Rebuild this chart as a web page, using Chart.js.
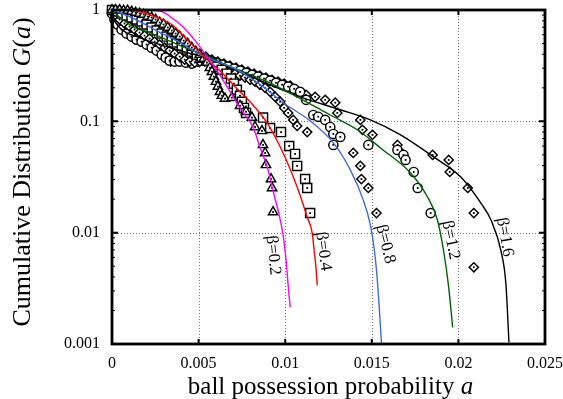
<!DOCTYPE html>
<html>
<head>
<meta charset="utf-8">
<script src="https://cdn.jsdelivr.net/npm/chart.js@4/dist/chart.umd.min.js"></script>
<style>
  body { margin: 0; background: #fff; }
  canvas { display: block; }
</style>
</head>
<body>
<canvas id="dist" width="563" height="399"></canvas>
<script>
// axis ticks
const xTicks = [0, 0.005, 0.01, 0.015, 0.02, 0.025];
const xTickLabels = ['0', '0.005', '0.01', '0.015', '0.02', '0.025'];
const yTicks = [0.001, 0.01, 0.1, 1];
const yTickLabels = ['0.001', '0.01', '0.1', '1'];

// fitted curves, [a, G(a)]
const fit02 = [[0,1],[0.00101,1],[0.00217,0.995],[0.00287,0.969],[0.00351,0.838],[0.00409,0.706],[0.00484,0.52],[0.00553,0.373],[0.0064,0.236],[0.00739,0.132],[0.00814,0.089],[0.00854,0.0589],[0.00901,0.0366],[0.00936,0.0218],[0.00965,0.0144],[0.00988,0.0095],[0.01005,0.00565],[0.01017,0.00337],[0.01029,0.00213]];
const fit04 = [[0,1],[0.00113,0.995],[0.00246,0.874],[0.00345,0.74],[0.00461,0.489],[0.00536,0.373],[0.00623,0.285],[0.00739,0.184],[0.00797,0.15],[0.00895,0.0969],[0.00988,0.052],[0.01069,0.0257],[0.01127,0.0138],[0.01156,0.0099],[0.01167,0.00695],[0.01179,0.00459],[0.01185,0.00337]];
const fit08 = [[0,1],[0.00101,0.874],[0.00246,0.667],[0.00391,0.51],[0.00536,0.381],[0.00698,0.303],[0.00872,0.205],[0.00988,0.147],[0.01144,0.101],[0.01278,0.064],[0.01376,0.0366],[0.01451,0.0196],[0.01492,0.0117],[0.01515,0.00695],[0.01532,0.00373],[0.01544,0.002],[0.01556,0.001]];
const fit12 = [[0,1],[0.000145,0.95],[0.00061,0.821],[0.0013,0.696],[0.00217,0.627],[0.00408,0.469],[0.00565,0.373],[0.00698,0.303],[0.00895,0.227],[0.01087,0.16],[0.0126,0.114],[0.01417,0.084],[0.0155,0.0577],[0.01724,0.0344],[0.01822,0.0209],[0.01879,0.013],[0.01914,0.00695],[0.01944,0.00323],[0.01967,0.00141]];
const fit16 = [[0,1],[0.000087,0.856],[0.000435,0.696],[0.00159,0.565],[0.00333,0.459],[0.00536,0.373],[0.00739,0.279],[0.00913,0.213],[0.01087,0.166],[0.01318,0.127],[0.01492,0.103],[0.01666,0.0756],[0.01857,0.0479],[0.02014,0.0316],[0.0213,0.0184],[0.02188,0.013],[0.02245,0.00695],[0.02274,0.00351],[0.02292,0.00103]];

// measured distributions, [a, G(a)]
const obs02 = [[0,1],[0.0002,1],[0.00044,1],[0.00067,0.99],[0.0009,0.99],[0.00113,0.969],[0.00136,0.95],[0.00159,0.93],[0.00183,0.911],[0.00206,0.874],[0.00229,0.856],[0.00252,0.821],[0.00275,0.772],[0.00298,0.74],[0.00322,0.696],[0.00345,0.654],[0.00368,0.614],[0.00391,0.577],[0.00414,0.531],[0.00437,0.499],[0.00461,0.459],[0.00484,0.423],[0.00507,0.397],[0.0053,0.366],[0.00548,0.337],[0.00565,0.303],[0.00577,0.279],[0.00588,0.252],[0.006,0.227],[0.00611,0.205],[0.00623,0.184],[0.00634,0.17],[0.00652,0.16],[0.00692,0.163],[0.00739,0.138],[0.00774,0.122],[0.00808,0.108],[0.00826,0.089],[0.00866,0.082],[0.00872,0.0614],[0.00884,0.052],[0.00889,0.0406],[0.00918,0.0303],[0.00924,0.0252],[0.0093,0.0153]];
const obs04 = [[0,1],[0.00026,0.969],[0.00055,0.93],[0.00084,0.892],[0.00113,0.856],[0.00142,0.821],[0.00171,0.788],[0.002,0.74],[0.00229,0.696],[0.00258,0.654],[0.00287,0.614],[0.00316,0.577],[0.00345,0.542],[0.00374,0.51],[0.00403,0.479],[0.00432,0.45],[0.00461,0.423],[0.0049,0.397],[0.00519,0.373],[0.00548,0.351],[0.00577,0.33],[0.00605,0.31],[0.00634,0.291],[0.00663,0.268],[0.00687,0.242],[0.00704,0.218],[0.00721,0.192],[0.00739,0.17],[0.0075,0.15],[0.00762,0.132],[0.00774,0.119],[0.00872,0.108],[0.00913,0.087],[0.00976,0.08],[0.01023,0.0601],[0.01057,0.051],[0.01069,0.0398],[0.01115,0.0303],[0.01127,0.0252],[0.01144,0.015]];
const obs08 = [[0,0.969],[0.0002,0.892],[0.00044,0.821],[0.00072,0.756],[0.00101,0.71],[0.0013,0.667],[0.00159,0.627],[0.00188,0.589],[0.00217,0.554],[0.00246,0.52],[0.00275,0.489],[0.00304,0.459],[0.00333,0.432],[0.00362,0.406],[0.00391,0.381],[0.0042,0.358],[0.00449,0.344],[0.00478,0.337],[0.00507,0.344],[0.00536,0.344],[0.00565,0.337],[0.00594,0.323],[0.00623,0.31],[0.00652,0.291],[0.00681,0.279],[0.0071,0.268],[0.00739,0.257],[0.00768,0.247],[0.00797,0.236],[0.00826,0.227],[0.00854,0.213],[0.00884,0.2],[0.00913,0.184],[0.00942,0.166],[0.00971,0.15],[0.00994,0.132],[0.01017,0.119],[0.01046,0.103],[0.01069,0.091],[0.01127,0.08],[0.01393,0.052],[0.01434,0.0398],[0.0144,0.0303],[0.0148,0.0252],[0.01527,0.015]];
const obs12 = [[0,0.93],[0.000145,0.821],[0.00032,0.74],[0.00055,0.667],[0.00084,0.614],[0.00113,0.577],[0.00142,0.542],[0.00171,0.52],[0.002,0.489],[0.00229,0.459],[0.00258,0.432],[0.00287,0.397],[0.0031,0.373],[0.00333,0.351],[0.00362,0.344],[0.00391,0.344],[0.00426,0.337],[0.00461,0.33],[0.00495,0.344],[0.0053,0.358],[0.00565,0.351],[0.006,0.337],[0.00634,0.323],[0.00669,0.31],[0.00704,0.297],[0.00739,0.285],[0.00774,0.273],[0.00808,0.262],[0.00843,0.252],[0.00878,0.242],[0.00913,0.232],[0.00947,0.222],[0.00982,0.213],[0.01017,0.205],[0.01052,0.196],[0.01086,0.184],[0.01121,0.156],[0.01162,0.114],[0.01191,0.11],[0.01231,0.103],[0.0126,0.089],[0.01278,0.077],[0.01278,0.0614],[0.01318,0.0725],[0.0148,0.0614],[0.01648,0.0553],[0.01683,0.0499],[0.01695,0.045],[0.01742,0.0351],[0.01765,0.0252],[0.0184,0.015]];
const obs16 = [[0,1],[0.00009,0.911],[0.0002,0.821],[0.00038,0.74],[0.00061,0.681],[0.0009,0.64],[0.00119,0.601],[0.00148,0.565],[0.00177,0.531],[0.00206,0.499],[0.00235,0.469],[0.00264,0.432],[0.00293,0.397],[0.00316,0.366],[0.00339,0.344],[0.00368,0.358],[0.00403,0.373],[0.00437,0.373],[0.00472,0.358],[0.00507,0.373],[0.00542,0.381],[0.00577,0.358],[0.00611,0.344],[0.00646,0.33],[0.00681,0.316],[0.00716,0.303],[0.0075,0.291],[0.00785,0.279],[0.0082,0.268],[0.00854,0.257],[0.00889,0.247],[0.00924,0.236],[0.00959,0.227],[0.00994,0.218],[0.01029,0.209],[0.01069,0.181],[0.01121,0.173],[0.01173,0.166],[0.01231,0.156],[0.01289,0.147],[0.01301,0.119],[0.01434,0.103],[0.01446,0.084],[0.01504,0.0756],[0.01648,0.0614],[0.01654,0.0553],[0.01851,0.0499],[0.01944,0.045],[0.0195,0.0351],[0.02054,0.0252],[0.02089,0.015],[0.02089,0.00489]];

// curve labels and where they sit (a, G)
const betaLabels = ['β=0.2', 'β=0.4', 'β=0.8', 'β=1.2', 'β=1.6'];
const labelA = [0.0093, 0.0122, 0.01579, 0.01955, 0.02268];
const labelG = [0.00627, 0.0068, 0.00788, 0.00856, 0.0091];
const labelTilt = [84, 82, 76, 78, 80];

const SERIF = "'Liberation Serif', 'Times New Roman', serif";
Chart.defaults.font.family = SERIF;

const pts = arr => arr.map(p => ({ x: p[0], y: p[1] }));

function fitLine(data, color) {
  return {
    type: 'line', data: pts(data), borderColor: color, borderWidth: 1.4,
    pointRadius: 0, cubicInterpolationMode: 'monotone', fill: false, order: 0
  };
}

// open markers: white inside, black outline, dot drawn by the plugin below
function observed(data, style, radius) {
  return {
    type: 'scatter', data: pts(data), pointStyle: style, pointRadius: radius,
    pointBackgroundColor: '#fff', pointBorderColor: '#000', pointBorderWidth: 1.45,
    clip: false, order: 1
  };
}

function richText(ctx, parts, x, y, size) {
  let total = 0;
  parts.forEach(p => {
    ctx.font = (p[1] ? 'italic ' : '') + size + 'px ' + SERIF;
    total += ctx.measureText(p[0]).width;
  });
  let cx = x - total / 2;
  ctx.textAlign = 'left';
  ctx.textBaseline = 'middle';
  parts.forEach(p => {
    ctx.font = (p[1] ? 'italic ' : '') + size + 'px ' + SERIF;
    ctx.fillText(p[0], cx, y);
    cx += ctx.measureText(p[0]).width;
  });
}

const framePlugin = {
  id: 'framePlugin',
  beforeDatasetsDraw(chart) {
    const { ctx, chartArea: a, scales: { x, y } } = chart;
    ctx.save();
    ctx.strokeStyle = '#777';
    ctx.lineWidth = 1;
    ctx.setLineDash([1, 2]);
    xTicks.slice(1, -1).forEach(v => {
      const px = Math.round(x.getPixelForValue(v)) + 0.5;
      ctx.beginPath(); ctx.moveTo(px, a.top); ctx.lineTo(px, a.bottom); ctx.stroke();
    });
    yTicks.slice(1, -1).forEach(v => {
      const py = Math.round(y.getPixelForValue(v)) + 0.5;
      ctx.beginPath(); ctx.moveTo(a.left, py); ctx.lineTo(a.right, py); ctx.stroke();
    });
    ctx.restore();
  },
  afterDatasetDraw(chart, args) {
    // centre dot of each open marker
    if (args.meta.type !== 'scatter') return;
    const ctx = chart.ctx;
    ctx.save();
    ctx.fillStyle = '#000';
    args.meta.data.forEach(el => ctx.fillRect(el.x - 0.9, el.y - 0.9, 1.8, 1.8));
    ctx.restore();
  },
  afterDatasetsDraw(chart) {
    const { ctx, chartArea: a, scales: { x, y } } = chart;
    ctx.save();
    ctx.strokeStyle = '#000';
    // log ticks, inside on both sides
    yTicks.slice(0, -1).forEach(d => {
      for (let m = 1; m <= 9; m++) {
        const py = y.getPixelForValue(d * m);
        const len = m === 1 ? 6 : 3;
        ctx.lineWidth = m === 1 ? 2 : 1;
        ctx.beginPath();
        ctx.moveTo(a.left, py); ctx.lineTo(a.left + len, py);
        ctx.moveTo(a.right, py); ctx.lineTo(a.right - len, py);
        ctx.stroke();
      }
    });
    ctx.lineWidth = 2;
    xTicks.forEach(v => {
      const px = x.getPixelForValue(v);
      ctx.beginPath();
      ctx.moveTo(px, a.bottom); ctx.lineTo(px, a.bottom - 5);
      ctx.moveTo(px, a.top); ctx.lineTo(px, a.top + 5);
      ctx.stroke();
    });
    ctx.lineWidth = 2.8;
    ctx.strokeRect(a.left, a.top, a.right - a.left, a.bottom - a.top);

    // beta labels beside each curve
    ctx.fillStyle = '#000';
    ctx.font = '17px ' + SERIF;
    ctx.textAlign = 'center';
    ctx.textBaseline = 'middle';
    betaLabels.forEach((t, i) => {
      ctx.save();
      ctx.translate(x.getPixelForValue(labelA[i]), y.getPixelForValue(labelG[i]));
      ctx.rotate(labelTilt[i] * Math.PI / 180);
      ctx.fillText(t, 0, 0);
      ctx.restore();
    });
    ctx.restore();
  },
  afterDraw(chart) {
    const { ctx, chartArea: a } = chart;
    ctx.save();
    ctx.fillStyle = '#000';
    richText(ctx, [['ball possession probability ', false], ['a', true]],
      (a.left + a.right) / 2 + 2, a.bottom + 43, 25);
    ctx.translate(23, (a.top + a.bottom) / 2 - 5);
    ctx.rotate(-Math.PI / 2);
    richText(ctx, [['Cumulative Distribution ', false], ['G', true], ['(', false], ['a', true], [')', false]], 0, 0, 26);
    ctx.restore();
  }
};

new Chart(document.getElementById('dist').getContext('2d'), {
  data: {
    datasets: [
      fitLine(fit02, '#ff00ff'),
      fitLine(fit04, '#ff0000'),
      fitLine(fit08, '#4169e1'),
      fitLine(fit12, '#006400'),
      fitLine(fit16, '#000000'),
      observed(obs02, 'triangle', 5.4),
      observed(obs04, 'rect', 6.4),
      observed(obs08, 'rectRot', 4.6),
      observed(obs12, 'circle', 4.6),
      observed(obs16, 'rectRot', 4.6)
    ]
  },
  options: {
    responsive: false,
    animation: false,
    layout: { padding: { top: 10, right: 18, left: 0, bottom: 0 } },
    plugins: { legend: { display: false }, tooltip: { enabled: false } },
    scales: {
      x: {
        type: 'linear', min: 0, max: 0.025,
        afterFit: s => { s.height = 55; s.paddingLeft = 0; s.paddingRight = 0; },
        afterBuildTicks: s => { s.ticks = xTicks.map(v => ({ value: v })); },
        grid: { display: false, drawTicks: false },
        border: { display: false },
        ticks: {
          color: '#000', font: { size: 16 }, padding: 10,
          maxRotation: 0, autoSkip: false,
          callback: (v, i) => xTickLabels[i]
        }
      },
      y: {
        type: 'logarithmic', min: 0.001, max: 1,
        afterFit: s => { s.width = 112; s.paddingTop = 0; s.paddingBottom = 0; },
        afterBuildTicks: s => { s.ticks = yTicks.map(v => ({ value: v })); },
        grid: { display: false, drawTicks: false },
        border: { display: false },
        ticks: {
          color: '#000', font: { size: 16 }, padding: 12,
          autoSkip: false,
          callback: (v, i) => yTickLabels[i]
        }
      }
    }
  },
  plugins: [framePlugin]
});
</script>
</body>
</html>
